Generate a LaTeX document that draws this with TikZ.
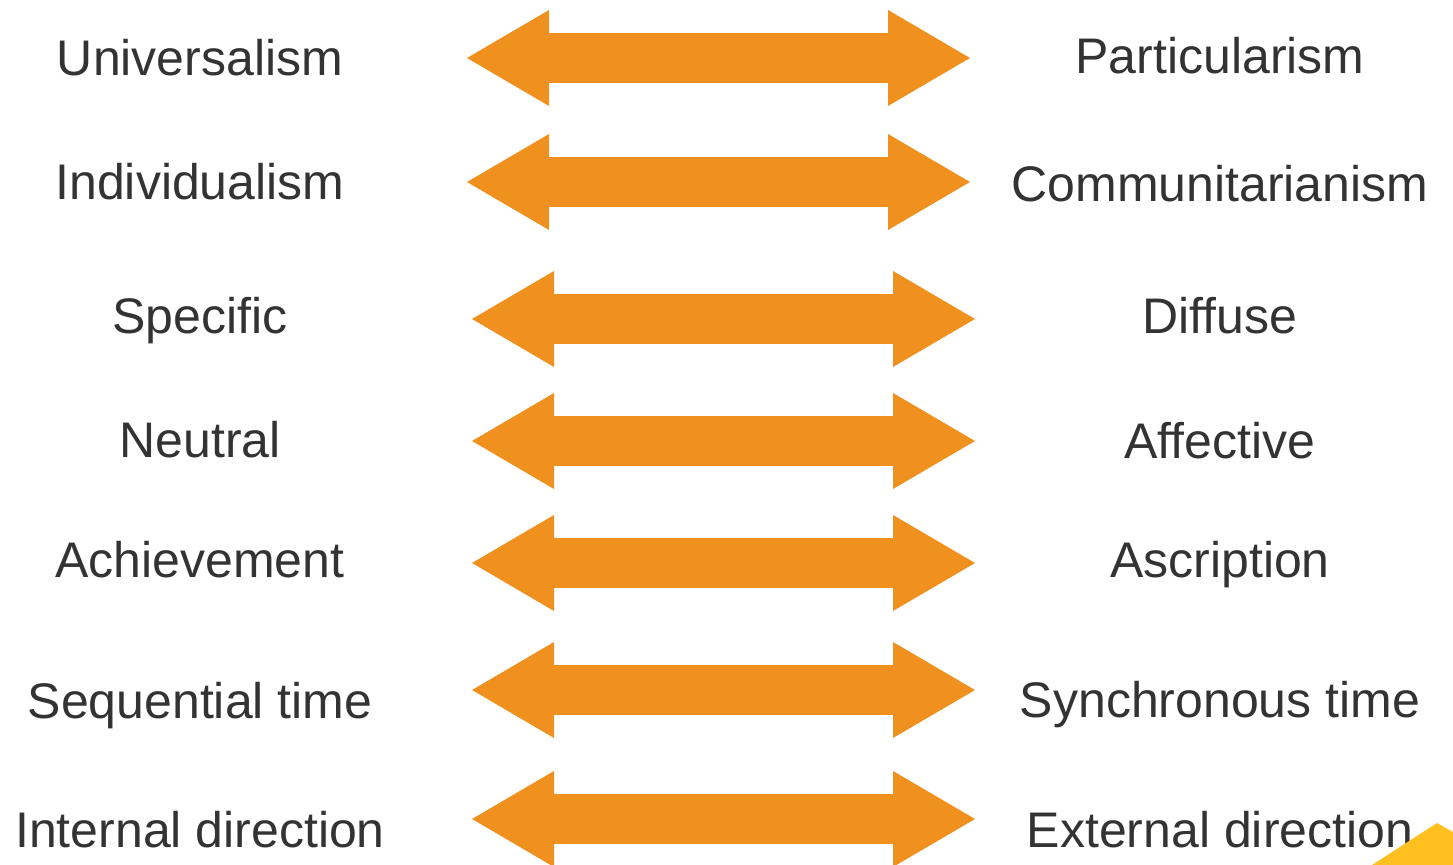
\documentclass[tikz,border=0pt]{standalone}
\usepackage{fontspec}
\setmainfont{Liberation Sans}
\usepackage{tikz}
\usetikzlibrary{arrows.meta}

\definecolor{traitgray}{HTML}{333333}
\definecolor{pairorange}{HTML}{F0901F}
\definecolor{cornergold}{HTML}{FFC020}

\begin{document}
\begin{tikzpicture}[x=0.5pt,y=-0.5pt]
    \tikzset{trait/.style = {font=\fontsize{25}{30}\selectfont, text=traitgray, anchor=base, inner sep=0pt}}
    \tikzset{pair/.style = {draw=pairorange, line width=25pt, <->,
        >={Triangle[length=41pt, width=48pt, line width=0pt]}}}

    \useasboundingbox[fill=white] (0,0) rectangle (1453,865);

    % left column
    \node[trait] (universal)  at (200,76)  {Universalism};
    \node[trait] (individual) at (200,200) {Individualism};
    \node[trait] (specific)   at (200,334) {Specific};
    \node[trait] (neutral)    at (200,458) {Neutral};
    \node[trait] (achieve)    at (200,578) {Achievement};
    \node[trait] (sequential) at (200,719) {Sequential time};
    \node[trait] (internal)   at (200,848) {Internal direction};

    % right column
    \node[trait] (particular)  at (1220,74)  {Particularism};
    \node[trait] (communal)    at (1220,202) {Communitarianism};
    \node[trait] (diffuse)     at (1220,334) {Diffuse};
    \node[trait] (affective)   at (1220,459) {Affective};
    \node[trait] (ascribe)     at (1220,578) {Ascription};
    \node[trait] (synchronous) at (1220,718) {Synchronous time};
    \node[trait] (external)    at (1220,848) {External direction};

    % arrow ends
    \coordinate (a1l) at (467,58);  \coordinate (a1r) at (970,58);
    \coordinate (a2l) at (467,182); \coordinate (a2r) at (970,182);
    \coordinate (a3l) at (472,319); \coordinate (a3r) at (975,319);
    \coordinate (a4l) at (472,441); \coordinate (a4r) at (975,441);
    \coordinate (a5l) at (472,563); \coordinate (a5r) at (975,563);
    \coordinate (a6l) at (472,690); \coordinate (a6r) at (975,690);
    \coordinate (a7l) at (472,819); \coordinate (a7r) at (975,819);

    % double arrows
    \draw[pair] (a1l) -- (a1r);
    \draw[pair] (a2l) -- (a2r);
    \draw[pair] (a3l) -- (a3r);
    \draw[pair] (a4l) -- (a4r);
    \draw[pair] (a5l) -- (a5r);
    \draw[pair] (a6l) -- (a6r);
    \draw[pair] (a7l) -- (a7r);

    % gold corner
    \fill[cornergold] (1437,823) -- (1372,865) -- (1453,865) -- (1453,832) -- cycle;
\end{tikzpicture}
\end{document}
